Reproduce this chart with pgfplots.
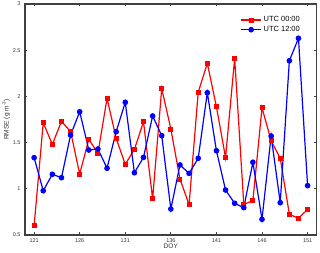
\documentclass[border=0pt]{standalone}
\usepackage{pgfplots}
\pgfplotsset{compat=1.18}
\usepackage{fontspec}
\setmainfont{Liberation Sans}
\definecolor{axgray}{gray}{0.25}
\begin{document}
\begin{tikzpicture}
\begin{axis}[
  scale only axis,
  width=291.7bp, height=231bp,
  xmin=120, xmax=152, ymin=0.5, ymax=3,
  xtick={121,126,131,136,141,146,151},
  ytick={0.5,1,1.5,2,2.5,3},
  yticklabels={0.5,1,1.5,2,2.5,3},
  xticklabels={121,126,131,136,141,146,151},
  tick align=inside,
  major tick length=2.5bp,
  axis line style={axgray, line width=1.2bp},
  tick style={axgray, line width=0.8bp},
  every tick label/.style={font=\fontsize{5.5}{6}\selectfont, text=black!80},
  label style={font=\fontsize{6.6}{7}\selectfont, text=black!80},
  xlabel={DOY},
  ylabel={RMSE (g m\textsuperscript{-3})},
  xlabel style={yshift=5bp},
  ylabel style={yshift=-4bp},
  yticklabel style={xshift=-1bp},
  legend style={at={(rel axis cs:0.953,0.959)}, anchor=north east, draw=none, fill=none,
    font=\fontsize{7.5}{8.4}\selectfont, row sep=-1bp, inner sep=1bp},
  legend cell align=left,
  legend image code/.code={
    \draw[mark repeat=2,mark phase=2,#1] plot coordinates {(0cm,0cm) (0.35cm,0cm) (0.70cm,0cm)};
  },
]
\coordinate (bl) at (rel axis cs:0,0);
\coordinate (tr) at (rel axis cs:1,1);
\addplot[color=red, line width=1.2bp, mark=square*, mark size=1.9bp, mark options={solid}] coordinates {
(121,0.60) (122,1.715) (123,1.48) (124,1.73) (125,1.62) (126,1.16) (127,1.536) (128,1.384)
(129,1.979) (130,1.546) (131,1.265) (132,1.427) (133,1.725) (134,0.89) (135,2.085) (136,1.647)
(137,1.106) (138,0.828) (139,2.044) (140,2.358) (141,1.889) (142,1.337) (143,2.412) (144,0.832)
(145,0.871) (146,1.878) (147,1.52) (148,1.33) (149,0.724) (150,0.681) (151,0.778)
};
\addlegendentry{UTC 00:00}
\addplot[color=blue, line width=1.2bp, mark=*, mark size=2.2bp, mark options={solid}] coordinates {
(121,1.337) (122,0.979) (123,1.157) (124,1.12) (125,1.582) (126,1.834) (127,1.42) (128,1.431)
(129,1.222) (130,1.618) (131,1.936) (132,1.174) (133,1.34) (134,1.788) (135,1.575) (136,0.781)
(137,1.258) (138,1.167) (139,1.33) (140,2.04) (141,1.412) (142,0.987) (143,0.843) (144,0.796)
(145,1.287) (146,0.67) (147,1.571) (148,0.85) (149,2.386) (150,2.629) (151,1.034)
};
\addlegendentry{UTC 12:00}
\end{axis}
\pgfresetboundingbox
\path[use as bounding box] ([shift={(-25bp,-18bp)}]bl) rectangle ([shift={(3.3bp,4bp)}]tr);
\end{tikzpicture}
\end{document}
